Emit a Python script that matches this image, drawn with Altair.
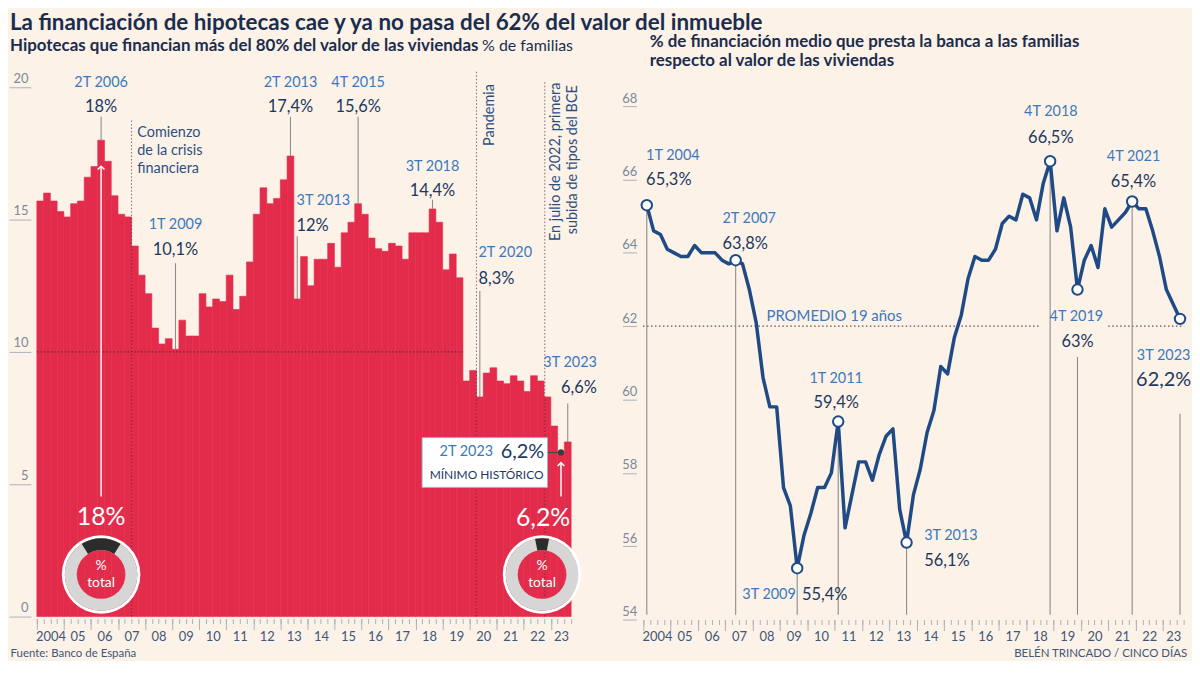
import math
import json
import altair as alt
import pandas as pd

FONT = "Lato"
BG = "#fcf2e8"
RED = "#e32c4b"
NAVY = "#1c3860"
BLUE = "#3a79bd"
LINE_C = "#1f4a85"
LEADER = "#8d8d8d"
TICK = "#a9b1bd"
YLBL = "#7d889a"
XLBL = "#3f5676"
DOTC = "#3a2a30"

YEARS = ["2004", "05", "06", "07", "08", "09", "10", "11", "12", "13",
         "14", "15", "16", "17", "18", "19", "20", "21", "22", "23"]

# % of families with mortgages financing more than 80% of the value (quarterly, 1T 2004 - 3T 2023)
BAR_VALUES = [15.7, 16.0, 15.7, 15.3, 15.1, 15.6, 15.7, 16.6, 17.0, 18.0, 17.2, 15.9,
              15.2, 15.1, 14.0, 12.9, 12.2, 10.9, 10.3, 10.5, 10.1, 11.2, 10.6, 10.6,
              12.2, 11.7, 12.0, 11.9, 12.9, 11.6, 12.1, 13.4, 15.2, 16.2, 15.6, 15.8,
              16.5, 17.4, 12.0, 13.6, 12.5, 13.5, 13.5, 14.1, 13.2, 14.5, 14.9, 15.6,
              15.2, 14.3, 13.9, 13.8, 14.1, 14.0, 13.5, 14.5, 14.5, 14.5, 15.4, 14.9,
              13.1, 13.7, 12.8, 8.9, 9.3, 8.3, 9.2, 9.4, 8.9, 8.8, 9.1, 8.9,
              8.5, 9.1, 8.9, 8.3, 7.2, 6.2, 6.6]

# average financing % (quarterly, 1T 2004 - 3T 2023)
LINE_VALUES = [65.3, 64.6, 64.5, 64.1, 64.0, 63.9, 63.9, 64.2, 64.0, 64.0, 64.0, 63.8,
               63.7, 63.8, 63.7, 63.0, 62.1, 60.6, 59.8, 59.8, 57.6, 57.1, 55.4, 56.3,
               56.9, 57.6, 57.6, 58.0, 59.4, 56.5, 57.4, 58.3, 58.3, 57.8, 58.5, 59.0,
               59.2, 57.0, 56.1, 57.4, 58.1, 59.1, 59.7, 60.9, 60.7, 61.7, 62.3, 63.3,
               63.9, 63.8, 63.8, 64.1, 64.8, 65.0, 64.9, 65.6, 65.5, 64.9, 65.9, 66.5,
               64.6, 65.5, 64.7, 63.0, 63.8, 64.2, 63.6, 65.2, 64.7, 64.9, 65.1, 65.4,
               65.2, 65.2, 64.6, 63.9, 63.0, 62.6, 62.2]
AVERAGE = 62.0

N = len(BAR_VALUES)

# ---------- left annotations ----------
L_Q = [9, 20, 37, 38, 47, 58, 65, 78]
L_LABEL = ["2T 2006", "1T 2009", "2T 2013", "3T 2013", "4T 2015", "3T 2018", "2T 2020", "3T 2023"]
L_TEXT = ["18%", "10,1%", "17,4%", "12%", "15,6%", "14,4%", "8,3%", "6,6%"]
L_ALIGN = ["center", "center", "center", "left", "center", "center", "left", "right"]
L_TX = [9.5, 20.5, 37.5, 38.4, 47.5, 58.5, 65.3, 82.8]
L_LY = [20.16, 14.79, 20.16, 15.69, 20.16, 17.0, 13.72, 9.59]
L_VY = [19.26, 13.85, 19.26, 14.75, 19.26, 16.09, 12.77, 8.65]
L_TOP = [18.88, 13.35, 18.88, 14.37, 18.88, 15.75, 12.3, 8.05]

EV_X = [14, 65, 75.1]
EV_TOP = [18.76, 20.64, 20.26]

COMIENZO = ["Comienzo", "de la crisis", "financiera"]
COMIENZO_X = 14.85
COMIENZO_Y = [18.28, 17.59, 16.9]
PANDEMIA = "Pandemia"
JULIO = ["En julio de 2022, primera", "subida de tipos del BCE"]
JULIO_X = [76.8, 79.3]
JULIO_Y = [17.18, 17.26]

DONUT_PCT = [18.0, 6.2]
DONUT_TEXT = ["18%", "6,2%"]
DONUT_X = [9.5, 74.7]
BIG_X = [9.5, 74.85]
ARROW_X = [9.5, 77.5]
ARROW_TOP = [16.99, 5.79]

# ---------- right annotations ----------
R_Q = [0, 13, 22, 28, 38, 59, 63, 71, 78]
R_LABEL = ["1T 2004", "2T 2007", "3T 2009", "1T 2011", "3T 2013", "4T 2018", "4T 2019", "4T 2021", "3T 2023"]
R_TEXT = ["65,3%", "63,8%", "55,4%", "59,4%", "56,1%", "66,5%", "63%", "65,4%", "62,2%"]
R_LALIGN = ["left", "left", "right", "center", "left", "center", "center", "center", "center"]
R_VALIGN = ["left", "left", "left", "center", "left", "center", "center", "center", "center"]
R_LX = [-0.1, 11.06, 21.8, 27.7, 40.57, 59.1, 62.84, 71.2, 75.6]
R_VX = [-0.1, 11.06, 22.7, 27.7, 40.57, 59.1, 63.0, 71.2, 75.6]
R_LY = [66.65, 64.92, 54.68, 60.56, 56.27, 67.83, 62.26, 66.62, 61.19]
R_VY = [65.99, 64.24, 54.68, 59.9, 55.59, 67.14, 61.57, 65.94, 60.52]
R_VFS = [16.5, 16.5, 16.5, 16.5, 16.5, 16.5, 16.5, 16.5, 20]
R_LTOP = [None, None, None, None, None, None, 61.16, None, 59.61]

# ---------- scales ----------
XS_L = alt.Scale(domain=[0, N], nice=False, zero=False)
YS_L = alt.Scale(domain=[0, 20.6], nice=False, zero=False)
XS_R = alt.Scale(domain=[-0.5, N - 0.5], nice=False, zero=False)
YS_R = alt.Scale(domain=[54, 68.95], nice=False, zero=False)


def X(field, scale, axis=None):
    return alt.X(f"{field}:Q", scale=scale, axis=axis)


def Y(field, scale, axis=None):
    return alt.Y(f"{field}:Q", scale=scale, axis=axis)


def text_layer(df, xf, yf, tf, xs, ys, align, color, size, **kw):
    return alt.Chart(df).mark_text(align=align, baseline="middle", font=FONT, color=color,
                                   fontSize=size, **kw).encode(
        x=X(xf, xs), y=Y(yf, ys), text=alt.Text(f"{tf}:N"))


label_expr_l = json.dumps(YEARS) + "[floor(datum.value/4)]"
label_expr_r = json.dumps(YEARS) + "[floor((datum.value+0.5)/4)]"

# ================= LEFT PANEL =================
df_bar = pd.DataFrame({"x0": list(range(N)), "x1": [i + 1 for i in range(N)],
                       "v": BAR_VALUES, "base": [0] * N})

ax_l_labels = alt.Axis(orient="bottom", values=[2 + 4 * k for k in range(19)] + [77.5],
                       ticks=False, domain=False, grid=False, offset=2, labelPadding=12,
                       labelExpr=label_expr_l, labelFontSize=13, labelColor=XLBL,
                       labelFlush=False, labelOverlap=False, labelFont=FONT,
                       title="Fuente: Banco de España", titleX=-27, titleY=35,
                       titleAlign="left", titleBaseline="middle", titleFontWeight="normal",
                       titleFontSize=11.5, titleColor=XLBL, titleFont=FONT)
ax_l_minor = alt.Axis(orient="bottom", values=list(range(0, N + 1)), tickSize=5, offset=2,
                      labels=False, domain=False, grid=False, title=None, tickColor=TICK)
ax_l_major = alt.Axis(orient="bottom", values=list(range(0, N, 4)), tickSize=11, offset=2,
                      labels=False, domain=False, grid=False, title=None, tickColor=TICK)
ay_l = alt.Axis(orient="left", values=[0, 5, 10, 15, 20], tickSize=22, offset=6, domain=False,
                grid=False, labelPadding=-19, labelAlign="right", labelBaseline="alphabetic",
                labelOffset=-5, labelFontSize=13, labelColor=YLBL, tickColor=TICK, labelFont=FONT,
                title="% de familias", titleAngle=0, titleX=453, titleY=-26, titleAlign="left",
                titleBaseline="middle", titleFontWeight="normal", titleFontSize=16,
                titleColor="#1b2d4d", titleFont=FONT)

bars = alt.Chart(df_bar).mark_rect(color=RED, stroke=RED, strokeWidth=0.6).encode(
    x=X("x0", XS_L, ax_l_labels), x2="x1:Q", y=Y("v", YS_L, ay_l), y2="base:Q")

df_ten = pd.DataFrame({"x": [0], "x2": [63], "y": [10]})
ten_line = alt.Chart(df_ten).mark_rule(color=DOTC, strokeDash=[1.5, 2], strokeWidth=1.2, opacity=0.75).encode(
    x=X("x", XS_L, ax_l_major), x2="x2:Q", y=Y("y", YS_L))

df_ev = pd.DataFrame({"x": EV_X, "top": EV_TOP, "base": [0] * len(EV_X)})
ev_lines = alt.Chart(df_ev).mark_rule(color=DOTC, strokeDash=[1.5, 2], strokeWidth=1.1, opacity=0.6).encode(
    x=X("x", XS_L, ax_l_minor), y=Y("base", YS_L), y2="top:Q")

df_lann = pd.DataFrame({"q": L_Q, "label": L_LABEL, "text": L_TEXT, "align": L_ALIGN,
                        "tx": L_TX, "ly": L_LY, "vy": L_VY, "top": L_TOP})
df_lann["lx"] = [q + 0.5 for q in L_Q]
df_lann["bv"] = [BAR_VALUES[q] for q in L_Q]

l_leaders = alt.Chart(df_lann).mark_rule(color=LEADER, strokeWidth=1.1).encode(
    x=X("lx", XS_L), y=Y("bv", YS_L), y2="top:Q")

l_texts = []
for al in ["center", "left", "right"]:
    sub = df_lann[df_lann["align"] == al]
    l_texts.append(text_layer(sub, "tx", "ly", "label", XS_L, YS_L, al, BLUE, 14.5))
    l_texts.append(text_layer(sub, "tx", "vy", "text", XS_L, YS_L, al, NAVY, 16.5))

df_com = pd.DataFrame({"x": [COMIENZO_X] * 3, "y": COMIENZO_Y, "t": COMIENZO})
com_text = text_layer(df_com, "x", "y", "t", XS_L, YS_L, "left", "#2d4f80", 14.5)
df_pan = pd.DataFrame({"x": [67.0], "y": [18.95], "t": [PANDEMIA]})
pan_text = text_layer(df_pan, "x", "y", "t", XS_L, YS_L, "center", "#2d4f80", 14.5, angle=270)
df_jul = pd.DataFrame({"x": JULIO_X, "y": JULIO_Y, "t": JULIO})
jul_text = text_layer(df_jul, "x", "y", "t", XS_L, YS_L, "center", "#2d4f80", 14.5, angle=270)

# white arrows
df_arr = pd.DataFrame({"x": ARROW_X, "y": [4.54, 4.54], "top": ARROW_TOP})
arrows = alt.Chart(df_arr).mark_rule(color="white", strokeWidth=1.5).encode(
    x=X("x", XS_L), y=Y("y", YS_L), y2="top:Q")
heads = alt.Chart(df_arr).mark_point(shape="M -1 0.8 L 0 -0.2 L 1 0.8", filled=False,
                                     color="white", strokeWidth=1.5, size=45, opacity=1).encode(
    x=X("x", XS_L), y=Y("top", YS_L))

# box "2T 2023 6,2% MINIMO HISTORICO"
df_box = pd.DataFrame({"x": [56.96], "x2": [75.5], "y": [4.88], "y2": [6.76]})
box = alt.Chart(df_box).mark_rect(fill="white", stroke="#9fb2c6", strokeWidth=1).encode(
    x=X("x", XS_L), x2="x2:Q", y=Y("y", YS_L), y2="y2:Q")
df_conn = pd.DataFrame({"x": [75.5], "x2": [77.5], "y": [BAR_VALUES[77]]})
conn = alt.Chart(df_conn).mark_rule(color="#444444", strokeWidth=1).encode(
    x=X("x", XS_L), x2="x2:Q", y=Y("y", YS_L))
df_dot = pd.DataFrame({"x": [77.5], "y": [BAR_VALUES[77]]})
dot = alt.Chart(df_dot).mark_circle(color="#3d3d3d", size=40, opacity=1).encode(
    x=X("x", XS_L), y=Y("y", YS_L))
box_t1 = text_layer(pd.DataFrame({"x": [63.5], "y": [6.23], "t": ["2T 2023"]}), "x", "y", "t",
                    XS_L, YS_L, "center", BLUE, 14.5)
box_t2 = text_layer(pd.DataFrame({"x": [71.8], "y": [6.23], "t": ["6,2%"]}), "x", "y", "t",
                    XS_L, YS_L, "center", NAVY, 20)
box_t3 = text_layer(pd.DataFrame({"x": [66.5], "y": [5.35], "t": ["MÍNIMO HISTÓRICO"]}), "x", "y", "t",
                    XS_L, YS_L, "center", NAVY, 12)

# donuts
df_don = pd.DataFrame({"x": DONUT_X, "y": [1.59, 1.59], "pct": DONUT_PCT})
df_don["t0"] = 2 * math.pi - math.pi * df_don["pct"] / 100
df_don["t1"] = 2 * math.pi + math.pi * df_don["pct"] / 100
ring_w = alt.Chart(df_don).mark_arc(color="white", radius=39.5, radius2=36.5, theta=0,
                                    theta2=2 * math.pi).encode(x=X("x", XS_L), y=Y("y", YS_L))
ring_g = alt.Chart(df_don).mark_arc(color="#d6d6d6", radius=36.5, radius2=24.5, theta=0,
                                    theta2=2 * math.pi).encode(x=X("x", XS_L), y=Y("y", YS_L))
seg = alt.Chart(df_don).mark_arc(color="#2a2d2a", radius=36.5, radius2=24.5).encode(
    x=X("x", XS_L), y=Y("y", YS_L),
    theta=alt.Theta("t0:Q", scale=None), theta2="t1:Q")
df_don_t = pd.DataFrame({"x": DONUT_X * 2, "y": [1.9, 1.9, 1.28, 1.28], "t": ["%", "%", "total", "total"]})
don_text = text_layer(df_don_t, "x", "y", "t", XS_L, YS_L, "center", "white", 14)
df_big = pd.DataFrame({"x": BIG_X, "y": [3.75, 3.72], "t": DONUT_TEXT})
big_text = text_layer(df_big, "x", "y", "t", XS_L, YS_L, "center", "white", 25)

left = alt.layer(
    bars, ten_line, ev_lines, l_leaders, arrows, heads, conn, box, dot, box_t1, box_t2, box_t3,
    ring_w, ring_g, seg, don_text, big_text, com_text, pan_text, jul_text, *l_texts
).resolve_axis(x="independent", y="independent").properties(
    width=537, height=548,
    title=alt.TitleParams(
        text="La financiación de hipotecas cae y ya no pasa del 62% del valor del inmueble",
        subtitle="Hipotecas que financian más del 80% del valor de las viviendas",
        anchor="start", frame="group", dx=-27, offset=-17, fontSize=22.5, fontWeight="bold",
        color="#1b2d4d", font=FONT, subtitleFont=FONT, subtitleFontSize=17,
        subtitleFontWeight="bold", subtitleColor="#1b2d4d", subtitlePadding=4.5))

# ================= RIGHT PANEL =================
df_line = pd.DataFrame({"q": list(range(N)), "v": LINE_VALUES})

ax_r_labels = alt.Axis(orient="bottom", values=[1.5 + 4 * k for k in range(19)] + [77.0],
                       ticks=False, domain=False, grid=False, offset=0, labelPadding=11,
                       labelExpr=label_expr_r, labelFontSize=13, labelColor=XLBL,
                       labelFlush=False, labelOverlap=False, labelFont=FONT,
                       title="BELÉN TRINCADO / CINCO DÍAS", titleX=546, titleY=34,
                       titleAlign="right", titleBaseline="middle", titleFontWeight="normal",
                       titleFontSize=11.5, titleColor=XLBL, titleFont=FONT)
ax_r_minor = alt.Axis(orient="bottom", values=[k - 0.5 for k in range(N + 1)], tickSize=5,
                      offset=0, labels=False, domain=False, grid=False, title=None, tickColor=TICK)
ax_r_major = alt.Axis(orient="bottom", values=[4 * k - 0.5 for k in range(20)], tickSize=11,
                      offset=0, labels=False, domain=False, grid=False, title=None, tickColor=TICK)
ay_r = alt.Axis(orient="left", values=[54, 56, 58, 60, 62, 64, 66, 68], tickSize=14, offset=7,
                domain=False, grid=False, labelPadding=-14.4, labelAlign="right",
                labelBaseline="alphabetic", labelOffset=-4, labelFontSize=13, labelColor=YLBL,
                tickColor=TICK, labelFont=FONT, title=None)

line = alt.Chart(df_line).mark_line(color=LINE_C, strokeWidth=3.5, strokeJoin="round").encode(
    x=X("q", XS_R, ax_r_labels), y=Y("v", YS_R, ay_r))

df_avg = pd.DataFrame({"x": [-0.55, 67.5], "x2": [57.6, 78.6], "y": [AVERAGE, AVERAGE]})
avg = alt.Chart(df_avg).mark_rule(color="#555555", strokeDash=[1.5, 2.5], strokeWidth=1.2).encode(
    x=X("x", XS_R, ax_r_minor), x2="x2:Q", y=Y("y", YS_R))
avg_text = text_layer(pd.DataFrame({"x": [17.5], "y": [62.28], "t": ["PROMEDIO 19 años"]}),
                      "x", "y", "t", XS_R, YS_R, "left", BLUE, 15)

df_rann = pd.DataFrame({"q": R_Q, "label": R_LABEL, "text": R_TEXT, "la": R_LALIGN, "va": R_VALIGN,
                        "lx": R_LX, "vx": R_VX, "ly": R_LY, "vy": R_VY, "fs": R_VFS})
df_rann["pv"] = [LINE_VALUES[q] for q in R_Q]
df_rann["top"] = [t if t is not None else LINE_VALUES[q] for q, t in zip(R_Q, R_LTOP)]
df_rann["bottom"] = 54.13

r_leaders = alt.Chart(df_rann).mark_rule(color=LEADER, strokeWidth=1.1).encode(
    x=X("q", XS_R, ax_r_major), y=Y("bottom", YS_R), y2="top:Q")
r_circles = alt.Chart(df_rann).mark_point(shape="circle", filled=True, fill="white", stroke=LINE_C,
                                          strokeWidth=2, size=110, opacity=1).encode(
    x=X("q", XS_R), y=Y("pv", YS_R))

r_texts = []
for al in ["center", "left", "right"]:
    sub = df_rann[df_rann["la"] == al]
    if len(sub):
        r_texts.append(text_layer(sub, "lx", "ly", "label", XS_R, YS_R, al, BLUE, 14.5))
    sub2 = df_rann[df_rann["va"] == al]
    if len(sub2):
        r_texts.append(alt.Chart(sub2).mark_text(align=al, baseline="middle", font=FONT,
                                                 color=NAVY).encode(
            x=X("vx", XS_R), y=Y("vy", YS_R), text=alt.Text("text:N"),
            size=alt.Size("fs:Q", scale=None)))

right = alt.layer(
    avg, r_leaders, line, r_circles, avg_text, *r_texts
).resolve_axis(x="independent", y="independent").properties(
    width=542.8, height=551,
    title=alt.TitleParams(
        text=["% de financiación medio que presta la banca a las familias",
              "respecto al valor de las viviendas"],
        anchor="start", frame="group", dx=6.4, offset=1, fontSize=17, fontWeight="bold",
        lineHeight=19, color="#1b2d4d", font=FONT))

chart = alt.hconcat(left, right, spacing=72.6, bounds="flush").properties(
    padding={"left": 0, "top": 2, "right": 0, "bottom": 0}, background=BG
).configure_view(stroke=None).configure_axis(labelFont=FONT, titleFont=FONT)

chart.save("out.html", embed_options={"renderer": "svg", "actions": False})
